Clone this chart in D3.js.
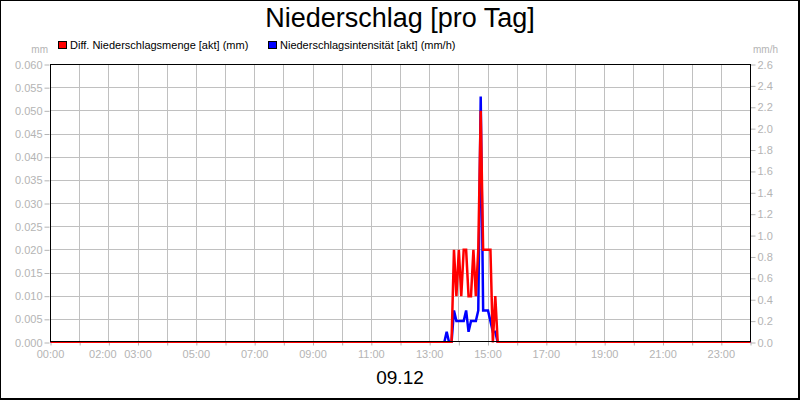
<!DOCTYPE html>
<html><head><meta charset="utf-8">
<script src="https://cdn.jsdelivr.net/npm/d3@7"></script>
<style>body{margin:0;background:#fff}svg{display:block}</style>
</head><body>
<svg id="c" width="800" height="400"></svg>
<script>
// ---- data ----
const title = "Niederschlag [pro Tag]";
const dateLabel = "09.12";
const seriesNames = ["Diff. Niederschlagsmenge [akt] (mm)", "Niederschlagsintensität [akt] (mm/h)"];
const seriesColors = ["#ff0000", "#0000ff"];
// times in "HH:MM", zero stretches given by their end points
const mengeTimes = ["00:00","13:45","13:50","13:55","14:00","14:05","14:10","14:15","14:20","14:25","14:30","14:35","14:40","14:45","14:50","14:55","15:00","15:05","15:10","15:15","15:20","24:00"];
const mengeValues = [0,0,0.02,0.01,0.02,0.01,0.02,0.02,0.01,0.01,0.02,0.01,0.02,0.05,0.02,0.02,0.02,0.02,0,0.01,0,0];
const intensTimes = ["00:00","13:30","13:35","13:40","13:45","13:50","13:55","14:00","14:05","14:10","14:15","14:20","14:25","14:30","14:35","14:40","14:45","14:50","14:55","15:00","15:05","15:10","15:15","15:20","24:00"];
const intensValues = [0,0,0.1,0,0,0.3,0.2,0.2,0.2,0.2,0.3,0.1,0.2,0.2,0.2,0.3,2.3,0.3,0.3,0.3,0.2,0.1,0.1,0,0];
const leftTicks = [0,0.005,0.010,0.015,0.020,0.025,0.030,0.035,0.040,0.045,0.050,0.055,0.060];
const rightTicks = [0,0.2,0.4,0.6,0.8,1.0,1.2,1.4,1.6,1.8,2.0,2.2,2.4,2.6];
const xTickLabels = ["00:00","02:00","03:00","05:00","07:00","09:00","11:00","13:00","15:00","17:00","19:00","21:00","23:00"];
const leftUnit = "mm", rightUnit = "mm/h";

// ---- drawing ----
const F = "'Liberation Sans', Arial, sans-serif";
const grey = "#b4b4b4";
const svg = d3.select("#c");
const toH = s => { const [h,m] = s.split(":").map(Number); return h + m/60; };

const x = d3.scaleLinear().domain([0,24]).range([50.5,750.5]);
const yL = d3.scaleLinear().domain([0,0.06]).range([342.5,64.5]);
const yR = d3.scaleLinear().domain([0,2.6]).range([342.5,64.5]);

svg.append("rect").attr("x",0).attr("y",0).attr("width",800).attr("height",400).attr("fill","#fff");

// grid
const g = svg.append("g");
g.selectAll(".vg").data(d3.range(1,24)).join("line")
  .attr("x1",d=>Math.round(x(d)-0.5)+0.5).attr("x2",d=>Math.round(x(d)-0.5)+0.5)
  .attr("y1",64).attr("y2",342).attr("stroke","#c0c0c0");
g.selectAll(".hg").data(leftTicks.slice(1,-1)).join("line")
  .attr("x1",50).attr("x2",750)
  .attr("y1",d=>Math.round(yL(d)-0.5)+0.5).attr("y2",d=>Math.round(yL(d)-0.5)+0.5)
  .attr("stroke","#c0c0c0");

// axes
const axL = d3.axisLeft(yL).tickValues(leftTicks).tickSize(5).tickPadding(2).tickFormat(d3.format(".3f"));
const axR = d3.axisRight(yR).tickValues(rightTicks).tickSize(5).tickPadding(2).tickFormat(d3.format(".1f"));
const axB = d3.axisBottom(x).tickValues(d3.range(0,25)).tickSize(4).tickFormat("");
function styleAxis(sel){
  sel.select(".domain").remove();
  sel.selectAll("line").attr("stroke",grey);
  sel.selectAll("text").attr("fill",grey).attr("font-family",F).attr("font-size",11);
}
svg.append("g").attr("transform","translate(49.5,0)").call(axL).call(styleAxis);
svg.append("g").attr("transform","translate(750.5,0)").call(axR).call(styleAxis);
svg.append("g").attr("transform","translate(0,341.5)").call(axB).call(styleAxis);

// x labels
const nudge = {"02:00": -6};
svg.append("g").selectAll("text").data(xTickLabels).join("text")
  .attr("x",d=>x(toH(d)) + (nudge[d]||0)).attr("y",358)
  .attr("text-anchor","middle").attr("fill",grey).attr("font-family",F).attr("font-size",11)
  .text(d=>d);

// clip
svg.append("clipPath").attr("id","pc").append("rect").attr("x",50).attr("y",64).attr("width",701).attr("height",279);

const lineI = d3.line().x(d=>x(toH(d[0]))).y(d=>yR(d[1]));
const lineM = d3.line().x(d=>x(toH(d[0]))).y(d=>yL(d[1]));
const pl = svg.append("g").attr("clip-path","url(#pc)");
pl.append("path").datum(d3.zip(intensTimes,intensValues)).attr("d",lineI)
  .attr("fill","none").attr("stroke",seriesColors[1]).attr("stroke-width",2.5).attr("stroke-linejoin","miter");
pl.append("path").datum(d3.zip(mengeTimes,mengeValues)).attr("d",lineM)
  .attr("fill","none").attr("stroke",seriesColors[0]).attr("stroke-width",2.5).attr("stroke-linejoin","miter");

// plot frame
svg.append("rect").attr("x",50.5).attr("y",64.5).attr("width",700).attr("height",277)
  .attr("fill","none").attr("stroke","#000");

// units
svg.append("text").attr("x",48).attr("y",53).attr("text-anchor","end").attr("fill",grey)
  .attr("font-family",F).attr("font-size",10).text(leftUnit);
svg.append("text").attr("x",753).attr("y",53).attr("fill",grey)
  .attr("font-family",F).attr("font-size",10).text(rightUnit);

// title
svg.append("text").attr("x",400).attr("y",27).attr("text-anchor","middle").attr("fill","#000")
  .attr("font-family",F).attr("font-size",27).text(title);
svg.append("text").attr("x",400).attr("y",384).attr("text-anchor","middle").attr("fill","#000")
  .attr("font-family",F).attr("font-size",19).text(dateLabel);

// legend
const legX = [58, 268];
const lg = svg.append("g");
seriesNames.forEach((n,i)=>{
  lg.append("rect").attr("x",legX[i]+0.5).attr("y",41.5).attr("width",8).attr("height",7)
    .attr("fill",seriesColors[i]).attr("stroke","#000");
  lg.append("text").attr("x",legX[i]+12).attr("y",49).attr("fill","#000")
    .attr("font-family",F).attr("font-size",11).text(n);
});

// outer border
svg.append("rect").attr("x",0.5).attr("y",0.5).attr("width",798).attr("height",398)
  .attr("fill","none").attr("stroke","#000");
svg.append("line").attr("x1",799.5).attr("x2",799.5).attr("y1",0).attr("y2",400).attr("stroke","#000");
svg.append("line").attr("x1",0).attr("x2",800).attr("y1",399.5).attr("y2",399.5).attr("stroke","#000");
</script>
</body></html>
